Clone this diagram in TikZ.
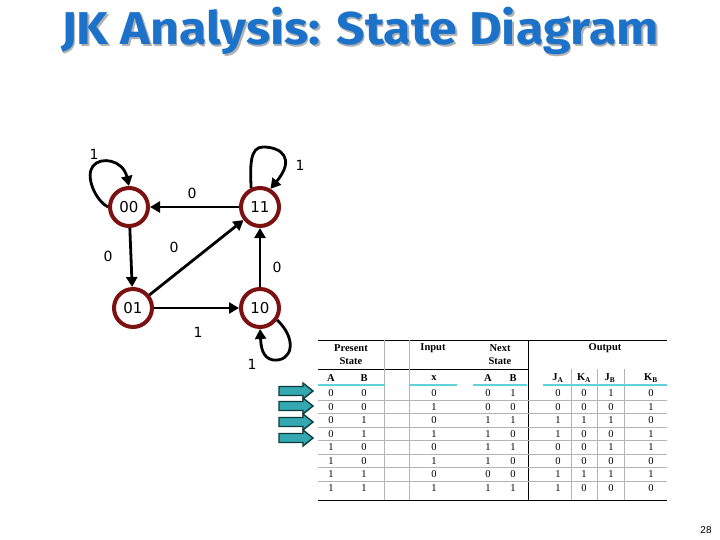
\documentclass[tikz,border=0pt]{standalone}
\usepackage{fontspec}
\setmainfont{Liberation Serif}
\newfontfamily\diagfont{DejaVu Sans}
\newfontfamily\titlefont{Fira Sans}[FakeStretch=1.09]
\newfontfamily\pagefont{Liberation Sans}
\usetikzlibrary{arrows.meta}
\definecolor{ringred}{HTML}{7B1111}
\definecolor{titleblue}{HTML}{1C72C8}
\definecolor{tealline}{HTML}{62D2DA}
\definecolor{tealfill}{HTML}{33A8AE}
\definecolor{tealedge}{HTML}{0B3B3E}
\definecolor{gridgray}{HTML}{B4B4B4}
\tikzset{
  state/.style={circle, draw=ringred, line width=4pt, fill=white, minimum size=38pt, inner sep=0pt, font=\diagfont\fontsize{15}{15}\selectfont},
  trans/.style={line width=2.8pt, -{Triangle[length=10pt,width=11pt]}},
  elabel/.style={font=\diagfont\fontsize{14}{14}\selectfont, inner sep=0pt},
  hdr/.style={font=\bfseries\fontsize{10.5}{13}\selectfont, inner sep=0pt, align=center},
  cell/.style={font=\fontsize{10.5}{10.5}\selectfont, inner sep=0pt},
  grid/.style={draw=gridgray, line width=0.6pt},
  rule/.style={draw=black, line width=0.8pt},
  tealrule/.style={draw=tealline, line width=2.4pt},
  blockarrow/.style={fill=tealfill, draw=tealedge, line width=1.4pt, line join=miter},
  titletext/.style={font=\titlefont\bfseries\fontsize{46}{46}\selectfont, inner sep=0pt}
}
\begin{document}
\begin{tikzpicture}[x=1pt,y=-1pt]
\useasboundingbox (0,0) rectangle (720,540);
% title with shadow
\node[titletext, text=gray!60] (titleshadow) at (361.5,32.5) {JK Analysis: State Diagram};
\node[titletext, text=titleblue] (title) at (360,31) {JK Analysis: State Diagram};

% states
\node[state] (s00) at (129,207) {00};
\node[state] (s11) at (260,207) {11};
\node[state] (s01) at (133,308) {01};
\node[state] (s10) at (260,308) {10};

% transitions
\draw[trans] (s11) -- (s00);
\draw[trans] (s00) -- (s01);
\draw[trans] (s01) -- (s11);
\draw[trans] (s01) -- (s10);
\draw[trans] (s10) -- (s11);
\draw[trans] (s00.west) .. controls (95,200) and (85,176) .. (93,166) .. controls (101,156) and (123,160) .. (s00.north);
\draw[trans] (s11.115) .. controls (250,165) and (250,147) .. (263,147) .. controls (281,147) and (296,158) .. (s11.60);
\draw[trans] (s10.-35) .. controls (298,340) and (292,362) .. (273,360) .. controls (262,358) and (261,346) .. (s10.south);

% labels
\node[elabel] (l00) at (94,154) {1};
\node[elabel] (l11) at (300,165) {1};
\node[elabel] (l10) at (252,364) {1};
\node[elabel] (l1100) at (192,193) {0};
\node[elabel] (l0001) at (108,256) {0};
\node[elabel] (l0111) at (174,247) {0};
\node[elabel] (l1011) at (277,267) {0};
\node[elabel] (l0110) at (198,332) {1};

% table rules
\draw[rule] (318,340) -- (667,340);
\draw[rule] (318,500) -- (667,500);
\draw[rule] (318,369) -- (528,369);
\draw[grid] (384,340) -- (384,500);
\draw[grid] (409,340) -- (409,500);
\draw[rule] (528,340) -- (528,500);
\foreach \xx in {571,597,624} \draw[grid] (\xx,369) -- (\xx,500);
\foreach \yy in {400.25,413.75,427.25,440.75,454.25,467.75,481.25} \draw[grid] (318,\yy) -- (667,\yy);
\draw[tealrule] (318,385) -- (385,385);
\draw[tealrule] (410,385) -- (457,385);
\draw[tealrule] (473,385) -- (527,385);
\draw[tealrule] (543,385) -- (667,385);

% headers
\node[hdr] (hps) at (351,355) {Present\\State};
\node[hdr] (hin) at (433,348) {Input};
\node[hdr] (hns) at (500,355) {Next\\State};
\node[hdr] (hout) at (605,348) {Output};
\node[hdr] (ha) at (331,378) {A};
\node[hdr] (hb) at (364,378) {B};
\node[hdr] (hx) at (434,378) {x};
\node[hdr] (hna) at (488,378) {A};
\node[hdr] (hnb) at (513,378) {B};
\node[hdr] (hja) at (558,378) {J\textsubscript{A}};
\node[hdr] (hka) at (584,378) {K\textsubscript{A}};
\node[hdr] (hjb) at (610,378) {J\textsubscript{B}};
\node[hdr] (hkb) at (651,378) {K\textsubscript{B}};

% data: A B x nA nB JA KA JB KB
\foreach \pa/\pb/\px/\na/\nb/\ja/\ka/\jb/\kb [count=\i from 0] in {
  0/0/0/0/1/0/0/1/0,
  0/0/1/0/0/0/0/0/1,
  0/1/0/1/1/1/1/1/0,
  0/1/1/1/0/1/0/0/1,
  1/0/0/1/1/0/0/1/1,
  1/0/1/1/0/0/0/0/0,
  1/1/0/0/0/1/1/1/1,
  1/1/1/1/1/1/0/0/0}{
  \pgfmathsetmacro{\yy}{393.5+13.5*\i}
  \node[cell] (c\i pa) at (331,\yy) {\pa};
  \node[cell] (c\i pb) at (364,\yy) {\pb};
  \node[cell] (c\i px) at (434,\yy) {\px};
  \node[cell] (c\i na) at (488,\yy) {\na};
  \node[cell] (c\i nb) at (513,\yy) {\nb};
  \node[cell] (c\i ja) at (558,\yy) {\ja};
  \node[cell] (c\i ka) at (584,\yy) {\ka};
  \node[cell] (c\i jb) at (611,\yy) {\jb};
  \node[cell] (c\i kb) at (651,\yy) {\kb};
}

% block arrows
\foreach \cy in {391,406,422,438} {
  \draw[blockarrow] (279,\cy-4.5) -- (303,\cy-4.5) -- (303,\cy-8) -- (313,\cy) -- (303,\cy+8) -- (303,\cy+4.5) -- (279,\cy+4.5) -- cycle;
}

% page number
\node[font=\pagefont\fontsize{10}{10}\selectfont, inner sep=0pt] (pg) at (706,530) {28};
\end{tikzpicture}
\end{document}
